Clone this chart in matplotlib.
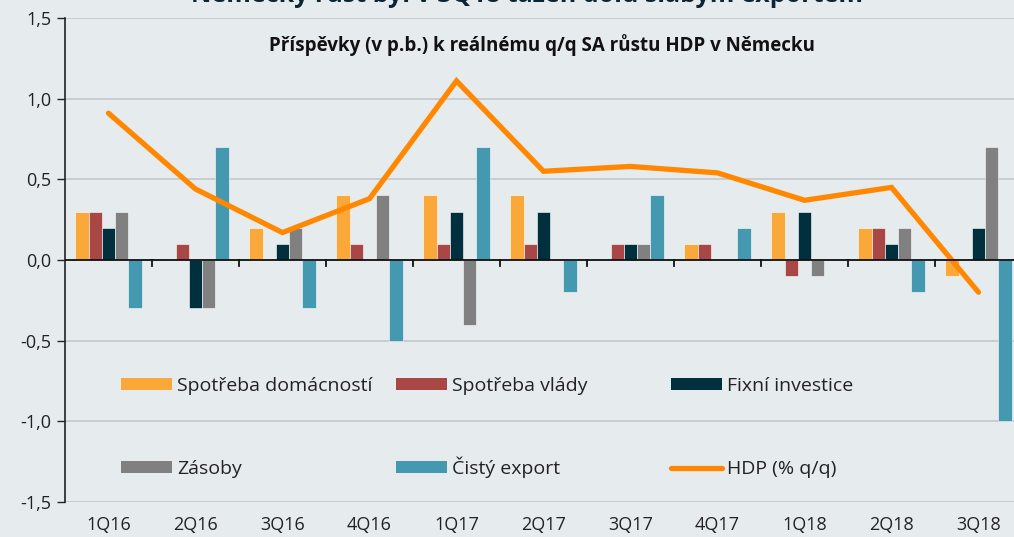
import numpy as np
import matplotlib
matplotlib.use('Agg')
import matplotlib.pyplot as plt
from matplotlib.patches import Patch
from matplotlib.lines import Line2D

plt.rcParams['font.family'] = ['Open Sans', 'DejaVu Sans']

# data
quarters = ['1Q16', '2Q16', '3Q16', '4Q16', '1Q17', '2Q17', '3Q17', '4Q17', '1Q18', '2Q18', '3Q18']
spotreba_dom = [0.3, 0.0, 0.2, 0.4, 0.4, 0.4, 0.0, 0.1, 0.3, 0.2, -0.1]
spotreba_vlady = [0.3, 0.1, 0.0, 0.1, 0.1, 0.1, 0.1, 0.1, -0.1, 0.2, 0.0]
fixni_inv = [0.2, -0.3, 0.1, 0.0, 0.3, 0.3, 0.1, 0.0, 0.3, 0.1, 0.2]
zasoby = [0.3, -0.3, 0.2, 0.4, -0.4, 0.0, 0.1, 0.0, -0.1, 0.2, 0.7]
cisty_export = [-0.3, 0.7, -0.3, -0.5, 0.7, -0.2, 0.4, 0.2, 0.0, -0.2, -1.0]
hdp = [0.91, 0.44, 0.17, 0.38, 1.11, 0.55, 0.58, 0.54, 0.37, 0.45, -0.20]

series = [
    ('Spotřeba domácností', spotreba_dom, '#fba83a'),
    ('Spotřeba vlády', spotreba_vlady, '#a94646'),
    ('Fixní investice', fixni_inv, '#00303d'),
    ('Zásoby', zasoby, '#808080'),
    ('Čistý export', cisty_export, '#4499b0'),
]
bg = '#e6ebee'
line_col = '#ff8800'

fig = plt.figure(figsize=(10.14, 5.37), dpi=100, facecolor=bg)
ax = fig.add_axes([65 / 1014, 35 / 537, 957 / 1014, 484 / 537], facecolor=bg)

x = np.arange(len(quarters))
w = 0.153
for i, (name, vals, col) in enumerate(series):
    ax.bar(x + (i - 2) * w, vals, w, color=col, edgecolor='#ffffff', linewidth=0.4,
           zorder=3)

ax.plot(x, hdp, color=line_col, lw=3.8, solid_capstyle='round',
        solid_joinstyle='miter', zorder=4)

ax.set_xlim(-0.5, len(quarters) - 0.5)
ax.set_ylim(-1.5, 1.5)
ax.set_yticks(np.arange(-1.5, 1.51, 0.5))
ax.set_yticklabels([f'{v:.1f}'.replace('.', ',') for v in np.arange(-1.5, 1.51, 0.5)],
                   fontsize=13, color='#222222')
ax.set_xticks(x)
ax.set_xticklabels(quarters, fontsize=13, color='#222222')
ax.tick_params(axis='x', length=0, pad=10)
ax.tick_params(axis='y', length=6, width=1, direction='out', pad=4, color='#222222')
ax.grid(axis='y', color='#c4c8cc', lw=1.2, zorder=0)
for s in ['top', 'right', 'bottom']:
    ax.spines[s].set_visible(False)
ax.spines['left'].set_color('#222222')
ax.spines['left'].set_linewidth(1.2)
ax.axhline(0, color='#111111', lw=1.3, zorder=5)
for b in np.arange(0.5, len(quarters) - 0.5, 1):
    ax.plot([b, b], [0, -0.035], color='#111111', lw=1.3, zorder=5)

# legend: one entry per slot, 3 columns x 2 rows (bottom-anchored so baselines line up)
handles = [Patch(facecolor=c, edgecolor='none') for _, _, c in series]
handles.append(Line2D([0], [0], color=line_col, lw=3.8, solid_capstyle='round'))
labels = [n for n, _, _ in series] + ['HDP (% q/q)']
col_x = [121, 396, 671]
row_y = [395, 478]
for k, (h, lab) in enumerate(zip(handles, labels)):
    xp = col_x[k % 3]
    yp = row_y[k // 3]
    leg = fig.legend([h], [lab], loc='lower left',
                     bbox_to_anchor=(xp / 1014, 1 - yp / 537),
                     frameon=False, fontsize=14, handlelength=2.6, handleheight=0.55,
                     handletextpad=0.3, borderaxespad=0, borderpad=0)
    for t in leg.get_texts():
        t.set_color('#222222')

fig.text(0.535, 1 - 45 / 537, 'Příspěvky (v p.b.) k reálnému q/q SA růstu HDP v Německu',
         ha='center', va='center', fontsize=13.5, fontweight='bold', color='#111111')
fig.text(0.52, 1 + 6 / 537, 'Německý růst byl v 3Q18 tažen dolů slabým exportem',
         ha='center', va='center', fontsize=18, fontweight='bold', color='#0c2533')

fig.savefig('out.png', dpi=100, facecolor=bg)
